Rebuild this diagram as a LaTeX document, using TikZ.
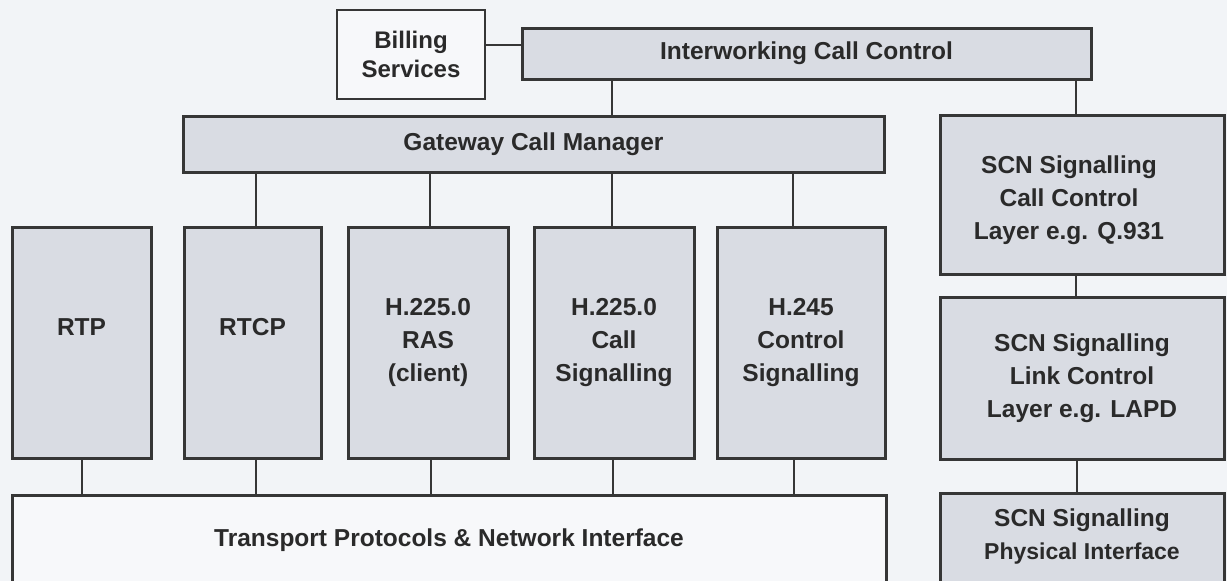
\documentclass[tikz,border=0pt]{standalone}
\usepackage{fontspec}
\setmainfont{Liberation Sans}
\definecolor{paper}{HTML}{F2F4F7}
\definecolor{boxfill}{HTML}{D9DCE3}
\definecolor{plainfill}{HTML}{F7F8FA}
\definecolor{edge}{HTML}{363636}
\definecolor{txt}{HTML}{2A2A2A}
\newcommand\liftlines[2]{\raisebox{#1}[\height][\depth]{\begin{tabular}{@{}c@{}}#2\end{tabular}}}
\begin{document}
\begin{tikzpicture}[x=1pt,y=-1pt,
  box/.style={draw=edge, line width=3pt, fill=boxfill, rectangle, inner sep=0pt,
    align=center, text=txt, font=\bfseries\fontsize{24.5}{33}\selectfont},
  plainbox/.style={box, fill=plainfill, line width=2pt},
  link/.style={draw=edge, line width=2pt}]
\useasboundingbox (0,0) rectangle (1227,581);
\fill[paper] (0,0) rectangle (1227,581);
\clip (0,0) rectangle (1227,581);

% top row
\node[plainbox, minimum width=148pt, minimum height=89pt,
  font=\bfseries\fontsize{24}{29}\selectfont] (bill) at (411,54.5) {Billing\\Services};
\node[box, minimum width=569pt, minimum height=51pt] (icc) at (806.5,53.5) {Interworking Call Control};
\node[box, minimum width=701pt, minimum height=56pt] (gcm) at (533.5,144) {Gateway Call Manager};

% protocol boxes
\node[box, minimum width=139pt, minimum height=231pt] (rtp)  at (81.5,342.5) {\raisebox{15pt}[\height][\depth]{RTP}};
\node[box, minimum width=137pt, minimum height=231pt] (rtcp) at (252.5,342.5) {\raisebox{15pt}[\height][\depth]{RTCP}};
\node[box, minimum width=160pt, minimum height=231pt] (ras)  at (428,342.5) {H.225.0\\RAS\\(client)};
\node[box, minimum width=160pt, minimum height=231pt] (call) at (614,342.5) {H.225.0\\Call\\Signalling};
\node[box, minimum width=168pt, minimum height=231pt] (h245) at (801,342.5) {H.245\\Control\\Signalling};

% transport
\node[box, fill=plainfill, minimum width=874pt, minimum height=90pt] (tr) at (449,540) {Transport Protocols \& Network Interface};

% SCN column
\node[box, minimum width=284pt, minimum height=159pt] (scc) at (1082,194.5)
  {\liftlines{-5.5pt}{SCN Signalling\\Call Control\\Layer e.g. Q.931}\hspace*{26pt}};
\node[box, minimum width=284pt, minimum height=162pt] (lnk) at (1082,378)
  {SCN Signalling\\Link Control\\Layer e.g. LAPD};
\node[box, minimum width=284pt, minimum height=100pt] (phy) at (1082,543)
  {\liftlines{7pt}{SCN Signalling\\{\fontsize{23}{33}\selectfont Physical Interface}}};

% connectors
\draw[link] ([yshift=9.5pt]bill.east) -- ([yshift=9.5pt]bill.east -| icc.west);
\draw[link] ([xshift=-2pt]icc.south -| call.north) -- ([xshift=-2pt]gcm.north -| call.north);
\draw[link] ([xshift=-6pt]scc.north) -- ([xshift=-6pt]scc.north |- icc.south);
% gateway to protocol boxes (RTP has none)
\draw[link] ([xshift=3.5pt]rtcp.north) -- ([xshift=3.5pt]rtcp.north |- gcm.south);
\draw[link] ([xshift=2pt]ras.north) -- ([xshift=2pt]ras.north |- gcm.south);
\draw[link] ([xshift=-2pt]call.north) -- ([xshift=-2pt]call.north |- gcm.south);
\draw[link] ([xshift=-8pt]h245.north) -- ([xshift=-8pt]h245.north |- gcm.south);
% protocol boxes to transport
\draw[link] ([xshift=0.5pt]rtp.south) -- ([xshift=0.5pt]rtp.south |- tr.north);
\draw[link] ([xshift=3.5pt]rtcp.south) -- ([xshift=3.5pt]rtcp.south |- tr.north);
\draw[link] ([xshift=3pt]ras.south) -- ([xshift=3pt]ras.south |- tr.north);
\draw[link] ([xshift=-1pt]call.south) -- ([xshift=-1pt]call.south |- tr.north);
\draw[link] ([xshift=-7pt]h245.south) -- ([xshift=-7pt]h245.south |- tr.north);
% SCN chain
\draw[link] ([xshift=-6pt]scc.south) -- ([xshift=-6pt]lnk.north);
\draw[link] ([xshift=-5pt]lnk.south) -- ([xshift=-5pt]phy.north);
\end{tikzpicture}
\end{document}
